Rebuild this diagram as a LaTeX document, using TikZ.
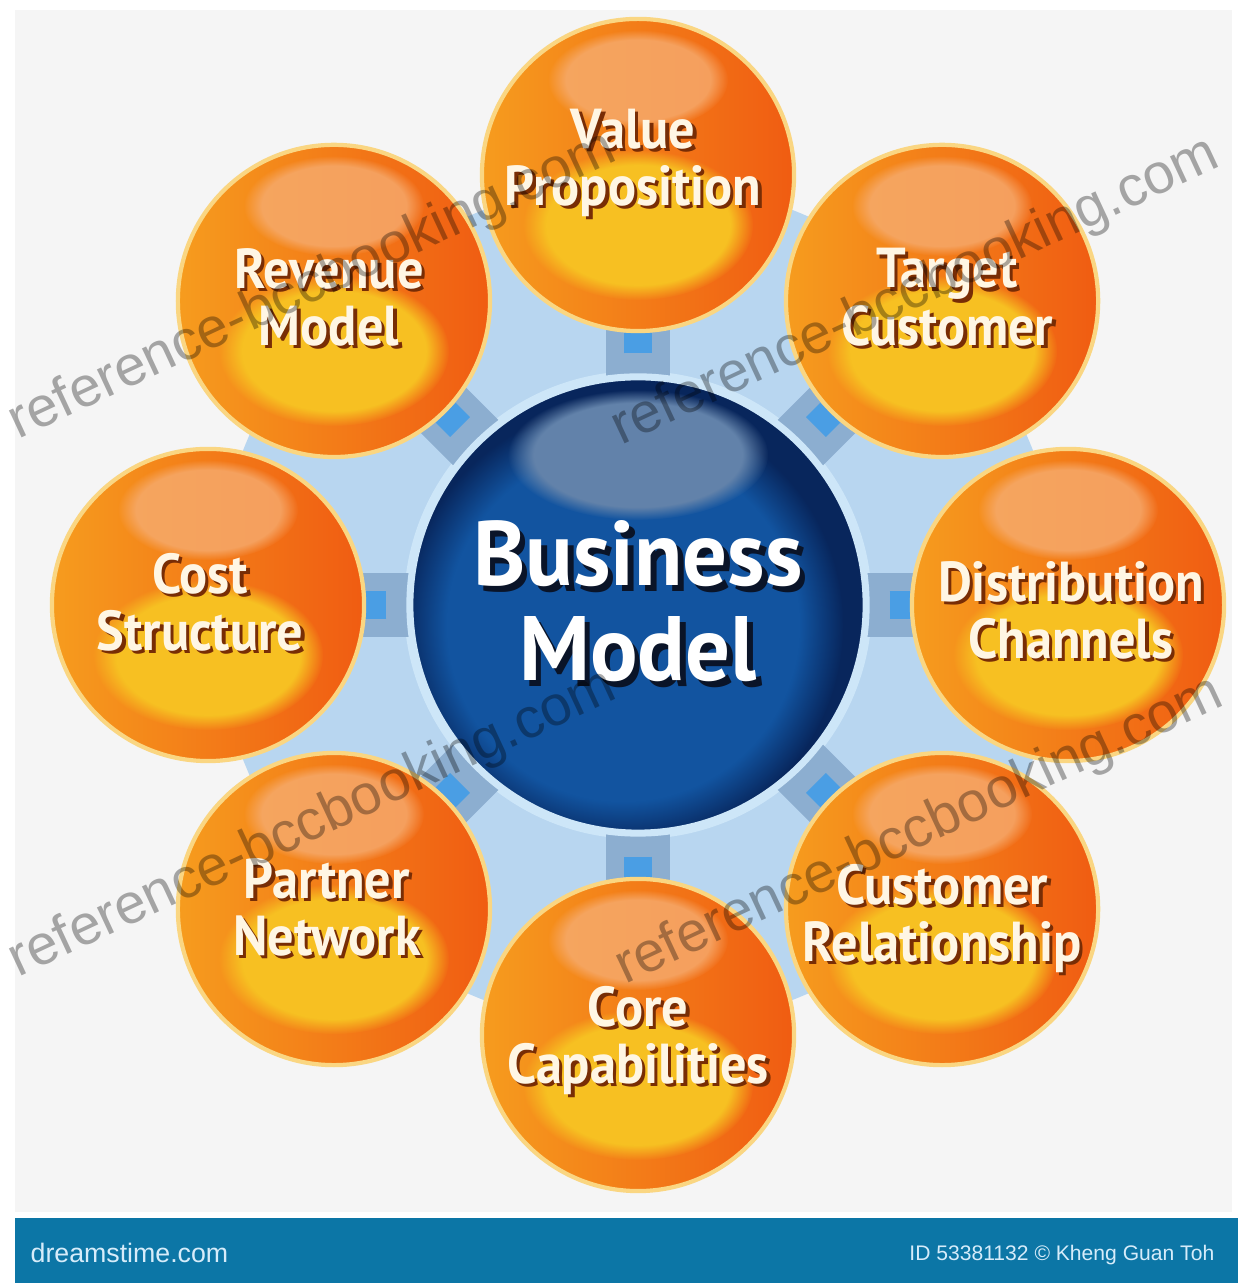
\documentclass[tikz,border=0pt]{standalone}
\usepackage{fontspec}
\newfontfamily\bubblefont{PT Sans}[FakeStretch=0.93]
\newfontfamily\hubfont{PT Sans}[FakeStretch=0.97]
\newfontfamily\markfont{Liberation Sans}
\usetikzlibrary{fadings}

\pgfdeclarelayer{back}
\pgfdeclarelayer{front}
\pgfsetlayers{back,main,front}

\definecolor{panelgray}{RGB}{245,245,245}
\definecolor{footblue}{RGB}{12,118,166}
\definecolor{foottext}{RGB}{214,236,250}
\definecolor{discblue}{RGB}{184,214,240}
\definecolor{spikeblue}{RGB}{70,142,208}
\definecolor{linkgray}{RGB}{140,174,208}
\definecolor{linkblue}{RGB}{74,158,228}
\definecolor{hubdark}{RGB}{8,38,92}
\definecolor{hubmid}{RGB}{18,84,160}
\definecolor{hubglow}{RGB}{98,130,170}
\definecolor{hubrim}{RGB}{205,230,248}
\definecolor{hubshade}{RGB}{10,20,40}
\definecolor{orleft}{RGB}{246,156,30}
\definecolor{orright}{RGB}{240,92,18}
\definecolor{orglow}{RGB}{247,192,34}
\definecolor{orpeach}{RGB}{246,172,112}
\definecolor{orrim}{RGB}{250,214,130}
\definecolor{labelshade}{RGB}{120,45,5}
\definecolor{labelcream}{RGB}{255,246,228}

% two-line label with a dark copy set just below and right of it
\newcommand\castlabel[2]{\leavevmode
  \rlap{\kern0.06em\raisebox{-0.06em}{\textcolor{#1}{\begin{tabular}{@{}c@{}}#2\end{tabular}}}}%
  \begin{tabular}{@{}c@{}}#2\end{tabular}}

\tikzset{
  bubble/.style={circle, minimum size=3.12cm, inner sep=0pt, draw=orrim, line width=1.2pt,
    text=labelcream, font=\bubblefont\bfseries\fontsize{16}{16.2}\selectfont,
    path picture={
      \shade[left color=orleft, right color=orright]
        (path picture bounding box.south west) rectangle (path picture bounding box.north east);
      \fill[orglow, path fading=circle with fuzzy edge 20 percent]
        ([yshift=-0.5cm]path picture bounding box.center) ellipse (1.15cm and 0.75cm);
      \fill[orpeach, opacity=0.8, path fading=circle with fuzzy edge 20 percent]
        ([yshift=0.95cm]path picture bounding box.center) ellipse (0.9cm and 0.5cm);
    }},
  hub/.style={circle, minimum size=4.56cm, inner sep=0pt, draw=hubrim, line width=2pt,
    text=white, font=\hubfont\bfseries\fontsize{26}{27}\selectfont,
    path picture={
      \fill[hubdark] (path picture bounding box.south west) rectangle (path picture bounding box.north east);
      \fill[hubmid, path fading=circle with fuzzy edge 20 percent]
        ([xshift=-0.15cm,yshift=-0.2cm]path picture bounding box.center) circle (2.2cm);
      \fill[hubglow, path fading=circle with fuzzy edge 20 percent]
        ([yshift=1.5cm]path picture bounding box.center) ellipse (1.3cm and 0.65cm);
    }},
  link/.style={linkgray, line width=0.64cm},
  link core/.style={linkblue, line width=0.28cm, shorten <=0.2cm},
  watermark/.style={text=black, opacity=0.33, font=\markfont\fontsize{16}{16}\selectfont, inner sep=0pt},
  footer/.style={text=foottext, font=\markfont\fontsize{7.6}{8}\selectfont, inner sep=0pt},
}

\begin{document}
\begin{tikzpicture}[x=0.01cm, y=0.01cm]
  \useasboundingbox (0,0) rectangle (1238,1283);

  \node[hub] (bm) at (638,678) {};
  \node[hub, draw=none, path picture={}, minimum size=0pt] (bm-t) at ([shift={(0,-12)}]bm)
    {\castlabel{hubshade}{Business\\Model}};

  \foreach \ang/\nm/\dx/\dy/\txt in {
      90/vp/-5/8/{Value\\Proposition},
      45/tc/5/-6/{Target\\Customer},
      0/dc/3/-15/{Distribution\\Channels},
      -45/cr/0/-14/{Customer\\Relationship},
      -90/cc/0/-10/{Core\\Capabilities},
      -135/pn/-7/-8/{Partner\\Network},
      180/cs/-8/-7/{Cost\\Structure},
      135/rm/-5/-6/{Revenue\\Model}}
  {
    \node[bubble] (\nm) at ([shift={(\ang:430)}]bm) {};
    \node[bubble, draw=none, path picture={}, minimum size=0pt] (\nm-t)
      at ([shift={(\dx,\dy)}]\nm) {\castlabel{labelshade}{\txt}};
  }

  \begin{pgfonlayer}{back}
    \fill[white] (0,0) rectangle (1238,1283);
    \fill[panelgray] (15,71) rectangle (1232,1273);
    \fill[footblue] (15,0) rectangle (1238,65);
    % spikes between the bubbles
    \foreach \ang in {22.5,67.5,...,337.5}
      \fill[spikeblue] ([shift={({\ang-13}:400)}]bm) -- ([shift={(\ang:502)}]bm)
        -- ([shift={({\ang+13}:400)}]bm) -- cycle;
    \fill[discblue] (bm) circle (424);
    \fill[hubrim] (bm) circle (234);
    \foreach \nm in {vp,tc,dc,cr,cc,pn,cs,rm} {
      \draw[link] (bm.center) -- (\nm.center);
      \draw[link core] (bm) -- (\nm);
    }
  \end{pgfonlayer}

  \begin{pgfonlayer}{front}
    \foreach \x/\y [count=\i] in {18/843, 621/837, 18/305, 625/298}
      \node[watermark, anchor=base west, rotate=25] (wm\i) at (\x,\y) {reference-bccbooking.com};
  \end{pgfonlayer}

  \node[footer, anchor=base west] (site) at (30,20) {dreamstime.com};
  \node[footer, anchor=base east, font=\markfont\fontsize{6}{6}\selectfont] (credit) at (1215,22)
    {ID 53381132 © Kheng Guan Toh};
\end{tikzpicture}
\end{document}
